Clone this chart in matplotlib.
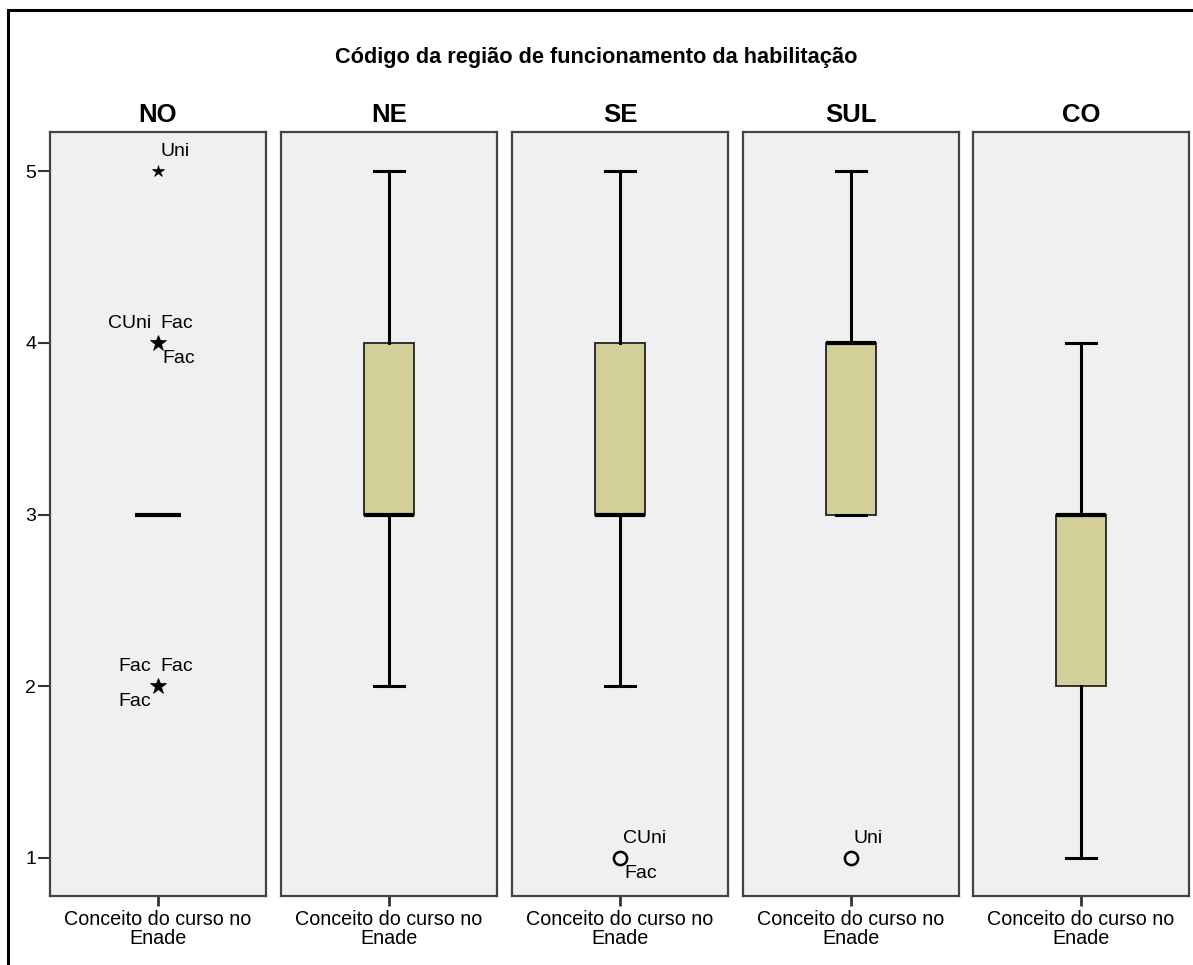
import matplotlib
matplotlib.use("Agg")
import matplotlib.pyplot as plt
from matplotlib.patches import Rectangle

plt.rcParams['font.family'] = ['Liberation Sans', 'DejaVu Sans']

# ---- data ----
regions = ["NO", "NE", "SE", "SUL", "CO"]
whislo = [3, 2, 2, 3, 1]
q1 = [3, 3, 3, 3, 2]
med = [3, 3, 3, 4, 3]
q3 = [3, 4, 4, 4, 3]
whishi = [3, 5, 5, 5, 4]
show_box = [False, True, True, True, True]

# outliers: (region index, value, kind)
outliers = [(0, 5, "extreme"), (0, 4, "extreme"), (0, 2, "extreme"),
            (2, 1, "mild"), (3, 1, "mild")]
# outlier labels: (region index, value, text, side)
outlier_labels = [
    (0, 5, "Uni", "ur"),
    (0, 4, "CUni", "ul"), (0, 4, "Fac", "ur"), (0, 4, "Fac", "lr"),
    (0, 2, "Fac", "ul"), (0, 2, "Fac", "ur"), (0, 2, "Fac", "ll"),
    (2, 1, "CUni", "ur"), (2, 1, "Fac", "lr"),
    (3, 1, "Uni", "ur"),
]
title = "Código da região de funcionamento da habilitação"
xlabel = "Conceito do curso no\nEnade"
yticks = [1, 2, 3, 4, 5]

# ---- layout ----
W, H = 1193, 965
fig = plt.figure(figsize=(W / 100, H / 100), dpi=100)
fig.patch.set_facecolor("white")

# outer frame (cropped)
fig.add_artist(Rectangle((8 / W, -0.1), 1.2, 1 - 10 / H + 0.1,
                         transform=fig.transFigure, fill=False,
                         edgecolor="black", lw=2.2))

fig.text(596 / W, 1 - 57 / H, title, ha="center", va="center",
         fontsize=15.7, fontweight="bold")

lefts = [50, 281, 512, 743, 973]
pw = 216
top, bot = 132, 896
ymin = 1 - (bot - 858) / 171.75
ymax = 5 + (171 - top) / 171.75
box_face = "#D3CF98"
panel_bg = "#F0F0F0"

offsets = {"ur": (2, 8, "left", "bottom"), "ul": (-5, 8, "right", "bottom"),
           "lr": (3, -5, "left", "top"), "ll": (-5, -5, "right", "top")}

for i, reg in enumerate(regions):
    ax = fig.add_axes([lefts[i] / W, 1 - bot / H, pw / W, (bot - top) / H])
    ax.set_facecolor(panel_bg)
    stats = [dict(whislo=whislo[i], q1=q1[i], med=med[i], q3=q3[i],
                  whishi=whishi[i], fliers=[])]
    if show_box[i]:
        ax.bxp(stats, positions=[0.5], widths=0.235, patch_artist=True,
               showfliers=False, showcaps=True, capwidths=0.14,
               boxprops=dict(facecolor=box_face, edgecolor="#222222", lw=1.3),
               medianprops=dict(color="black", lw=3),
               whiskerprops=dict(color="black", lw=2.2),
               capprops=dict(color="black", lw=2.2))
    else:
        ax.bxp(stats, positions=[0.5], widths=0.215, patch_artist=True,
               showfliers=False, showcaps=False,
               boxprops=dict(facecolor=box_face, edgecolor="none", lw=0),
               medianprops=dict(color="black", lw=3),
               whiskerprops=dict(color="black", lw=0))
    for (ri, v, kind) in outliers:
        if ri == i:
            if kind == "extreme":
                ax.plot([0.5], [v], marker="*", ms=12 if v != 5 else 9,
                        color="black", mec="black", mew=0.5)
            else:
                ax.plot([0.5], [v], marker="o", ms=9.5, mfc="none",
                        mec="black", mew=1.8)
    for (ri, v, txt, side) in outlier_labels:
        if ri == i:
            dx, dy, ha, va = offsets[side]
            ax.annotate(txt, (0.5, v), xytext=(dx, dy),
                        textcoords="offset points", ha=ha, va=va,
                        fontsize=14)
    ax.set_xlim(0, 1)
    ax.set_ylim(ymin, ymax)
    ax.set_xticks([0.5])
    ax.set_xticklabels([xlabel], fontsize=14.2, linespacing=1.0)
    ax.tick_params(axis="x", length=7, width=2, color="#333333", pad=3)
    if i == 0:
        ax.set_yticks(yticks)
        ax.set_yticklabels([str(t) for t in yticks], fontsize=14)
        ax.tick_params(axis="y", length=9, width=1.5, color="#333333", pad=1)
    else:
        ax.set_yticks([])
    for s in ax.spines.values():
        s.set_color("#444444")
        s.set_linewidth(1.6)
    ax.set_title(reg, fontsize=18.5, fontweight="bold", pad=7)

fig.savefig("out.png", dpi=100, facecolor="white")
